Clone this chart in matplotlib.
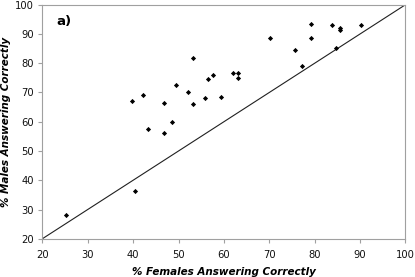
import matplotlib
matplotlib.use("Agg")
import matplotlib.pyplot as plt

females = [39.7, 42.2, 43.2, 46.8, 46.8, 48.6, 49.5, 52.2, 53.1, 53.1, 55.8, 56.6,
           57.6, 59.4, 62.1, 63.0, 63.0, 70.2, 75.7, 77.2, 79.2, 79.2, 83.8, 84.6,
           85.6, 85.6, 90.1, 25.2, 40.5]
males = [67.2, 69.1, 57.4, 66.3, 56.0, 59.8, 72.6, 70.2, 81.8, 66.1, 68.0, 74.6,
         75.9, 68.3, 76.6, 76.6, 74.9, 88.5, 84.4, 79.0, 93.3, 88.5, 93.1, 85.3,
         92.1, 91.5, 93.1, 28.0, 36.3]
ticks = [20, 30, 40, 50, 60, 70, 80, 90, 100]
diag = [20, 100]

fig = plt.figure(figsize=(4.15, 2.77), dpi=100)
ax = fig.add_axes([0.102, 0.138, 0.875, 0.845])
ax.plot(diag, diag, color='#202020', lw=0.8)
ax.scatter(females, males, marker='D', s=7, color='black', zorder=3, linewidths=0)
ax.set_xlim(20, 100)
ax.set_ylim(20, 100)
ax.set_xticks(ticks)
ax.set_yticks(ticks)
for s in ax.spines.values():
    s.set_color('#a0a0a0')
    s.set_linewidth(0.8)
ax.tick_params(direction='out', length=3, width=0.8, color='#a0a0a0', labelsize=7.2,
               labelcolor='#111111')
ax.tick_params(axis='x', pad=5)
ax.tick_params(axis='y', pad=3)
ax.set_xlabel('% Females Answering Correctly', fontsize=7.5, fontweight='bold', style='italic', labelpad=5)
ax.set_ylabel('% Males Answering Correctly', fontsize=7.5, fontweight='bold', style='italic', labelpad=3)
ax.text(23, 93, 'a)', fontsize=9.5, fontweight='bold')
fig.savefig('out.png', dpi=100)
